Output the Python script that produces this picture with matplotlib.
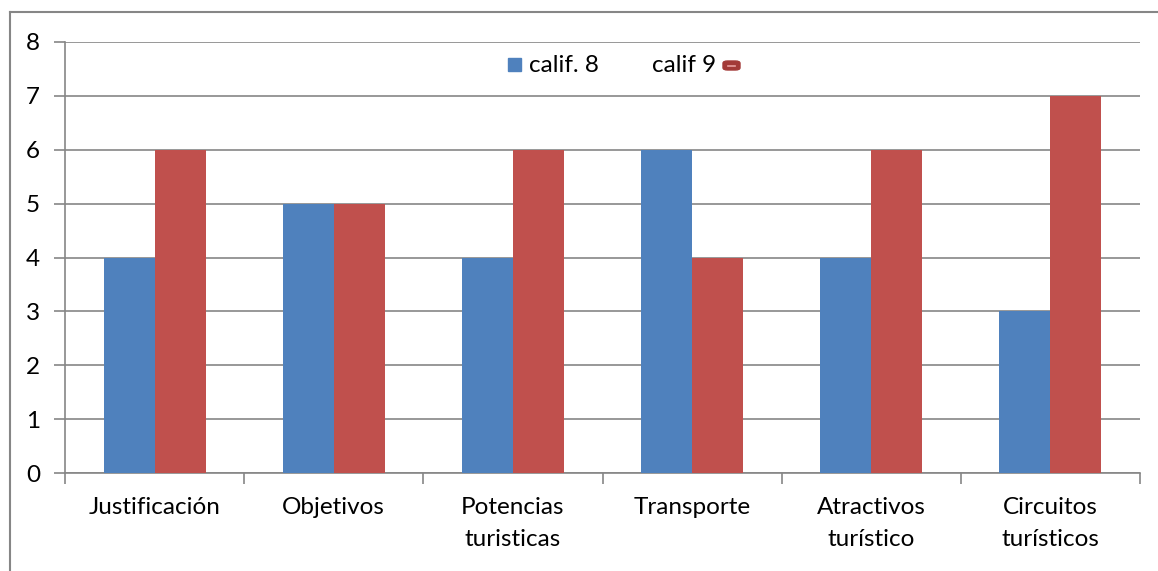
import matplotlib
matplotlib.use("Agg")
import matplotlib.pyplot as plt
from matplotlib.patches import Rectangle, FancyBboxPatch
from matplotlib.lines import Line2D
import numpy as np

categories = ["Justificación", "Objetivos", "Potencias\nturisticas", "Transporte",
              "Atractivos\nturístico", "Circuitos\nturísticos"]
calif8 = [4, 5, 4, 6, 4, 3]
calif9 = [6, 5, 6, 4, 6, 7]
yticks = [0, 1, 2, 3, 4, 5, 6, 7, 8]

plt.rcParams['font.family'] = ['Lato', 'DejaVu Sans']

W, H = 1158, 571
fig = plt.figure(figsize=(W / 100, H / 100), dpi=100)

def fx(px):
    return px / W

def fy(py):
    return 1 - py / H

FS = 17.5

# outer chart border (left and top visible)
fig.add_artist(Line2D([fx(9.5), fx(9.5)], [fy(12), fy(575)], color="#868686", lw=1.5))
fig.add_artist(Line2D([fx(9.5), fx(1160)], [fy(12), fy(12)], color="#868686", lw=1.5))

ax = fig.add_axes([fx(65), fy(473), fx(1140) - fx(65), fy(42) - fy(473)])

x = np.arange(len(categories))
w = 0.285
blue = "#4F81BD"
red = "#C0504D"
ax.bar(x - w / 2, calif8, width=w, color=blue, zorder=3)
ax.bar(x + w / 2, calif9, width=w, color=red, zorder=3)

ax.set_xlim(-0.5, len(categories) - 0.5)
ax.set_ylim(0, 8)
ax.set_yticks(yticks)
ax.yaxis.grid(True, color="#868686", lw=1.2, zorder=0)
ax.set_axisbelow(True)

for s in ["top", "right"]:
    ax.spines[s].set_visible(False)
for s in ["left", "bottom"]:
    ax.spines[s].set_color("#868686")
    ax.spines[s].set_linewidth(1.2)

ax.tick_params(axis="y", length=8, width=1.2, color="#868686", labelsize=FS, pad=10)
ax.set_xticks(np.arange(-0.5, len(categories), 1.0))
ax.set_xticklabels([])
ax.tick_params(axis="x", which="major", length=8, width=1.2, color="#868686")
ax.set_xticks(x, minor=True)
ax.set_xticklabels(categories, minor=True, fontsize=FS, linespacing=1.65)
ax.tick_params(axis="x", which="minor", length=0, pad=17)

# custom legend
fig.add_artist(Rectangle((fx(508), fy(71)), fx(521) - fx(508), fy(58) - fy(71),
                         color=blue, transform=fig.transFigure))
fig.text(fx(529), fy(65), "calif. 8", fontsize=FS, va="center", ha="left")
fig.text(fx(716), fy(65), "calif 9", fontsize=FS, va="center", ha="right")
fig.add_artist(FancyBboxPatch((fx(723), fy(70)), fx(740) - fx(723), fy(61) - fy(70),
                              boxstyle="round,pad=0.0,rounding_size=0.004",
                              color="#A33A38", transform=fig.transFigure))
fig.add_artist(Line2D([fx(728), fx(735)], [fy(65.5), fy(65.5)], color="#E8A0A0", lw=1.2))

fig.savefig("out.png", dpi=100)
